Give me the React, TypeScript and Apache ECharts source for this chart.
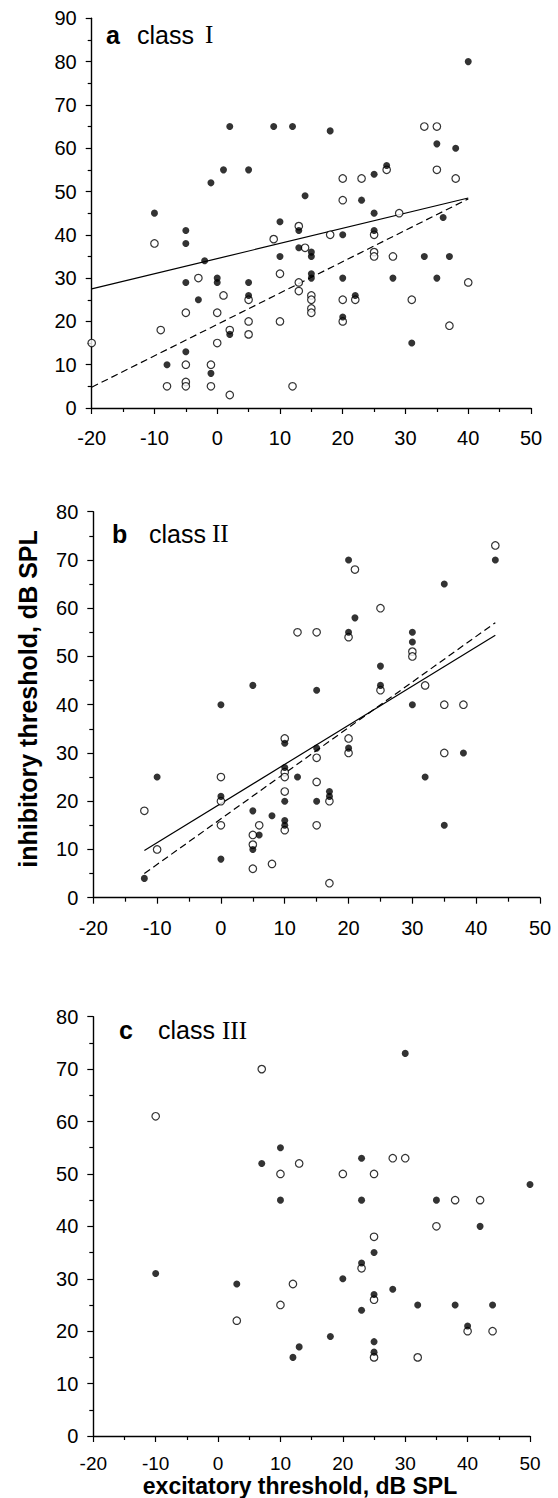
import React, { useEffect, useRef } from "react";
import * as echarts from "echarts";

// ---------- Panel a (class I) ----------
const aFilled: number[][] = [
  [-10, 45], [-5, 41], [-5, 38], [-5, 29], [-5, 13], [-3, 25], [-2, 34], [-1, 52],
  [0, 30], [0, 29], [1, 55], [2, 65], [2, 17], [5, 55], [5, 29], [5, 26], [9, 65],
  [-8, 10], [-1, 8], [31, 15], [12, 65], [18, 64], [35, 61], [38, 60], [40, 80],
  [27, 56], [25, 54], [23, 48], [14, 49], [25, 45], [10, 43], [13, 41], [20, 40],
  [25, 41], [36, 44], [13, 37], [15, 36], [15, 35], [10, 35], [33, 35], [37, 35],
  [15, 31], [15, 30], [20, 30], [28, 30], [35, 30], [22, 26], [20, 21],
];
const aOpen: number[][] = [
  [-20, 15], [-10, 38], [-9, 18], [-5, 22], [-5, 10], [-5, 6], [-5, 5], [-3, 30],
  [-8, 5], [-1, 10], [-1, 5], [0, 22], [0, 15], [1, 26], [2, 18], [2, 3], [5, 25],
  [5, 20], [5, 17], [12, 5], [33, 65], [35, 65], [35, 55], [38, 53], [27, 55],
  [23, 53], [20, 53], [20, 48], [29, 45], [13, 42], [9, 39], [18, 40], [25, 40],
  [14, 37], [25, 36], [25, 35], [28, 35], [10, 31], [13, 29], [13, 27], [40, 29],
  [15, 26], [15, 25], [15, 23], [15, 22], [20, 25], [22, 25], [31, 25], [20, 20],
  [10, 20], [37, 19],
];
const aSolid: number[][] = [[-20, 27.5], [40, 48.5]];
const aDashed: number[][] = [[-20, 4.8], [40, 48.3]];

// ---------- Panel b (class II) ----------
const bFilled: number[][] = [
  [-12, 4], [-10, 25], [0, 40], [0, 21], [0, 8], [5, 44], [5, 18], [5, 10], [6, 13],
  [8, 17], [10, 32], [10, 27], [10, 20], [10, 16], [10, 15], [12, 25], [15, 43],
  [15, 31], [15, 20], [17, 22], [17, 21], [20, 70], [21, 58], [20, 55], [20, 31],
  [25, 48], [25, 44], [30, 55], [30, 53], [30, 40], [32, 25], [35, 65], [35, 15],
  [38, 30], [43, 70],
];
const bOpen: number[][] = [
  [-12, 18], [-10, 10], [0, 25], [0, 20], [0, 15], [5, 13], [5, 11], [5, 6], [6, 15],
  [8, 7], [10, 33], [10, 26], [10, 25], [10, 22], [10, 14], [12, 55], [15, 55],
  [15, 29], [15, 24], [15, 15], [17, 20], [17, 3], [21, 68], [20, 54], [20, 33],
  [20, 30], [25, 60], [25, 43], [30, 51], [30, 50], [32, 44], [35, 40], [35, 30],
  [38, 40], [43, 73],
];
const bSolid: number[][] = [[-12, 9.8], [43, 54.4]];
const bDashed: number[][] = [[-12, 5], [43, 57]];

// ---------- Panel c (class III) ----------
const cFilled: number[][] = [
  [-10, 31], [3, 29], [7, 52], [10, 55], [10, 45], [12, 15], [13, 17], [18, 19],
  [20, 30], [23, 53], [23, 45], [23, 33], [23, 24], [25, 35], [25, 27], [25, 18],
  [25, 16], [28, 28], [30, 73], [32, 25], [35, 45], [38, 25], [40, 21], [42, 40],
  [44, 25], [50, 48],
];
const cOpen: number[][] = [
  [-10, 61], [3, 22], [7, 70], [10, 50], [10, 25], [12, 29], [13, 52], [20, 50],
  [23, 32], [25, 50], [25, 38], [25, 26], [25, 15], [28, 53], [30, 53], [32, 15],
  [35, 40], [38, 45], [40, 20], [42, 45], [44, 20],
];

const xMin = -20;
const xMax = 50;
const yMaxes = [90, 80, 80];
const panelLetters = ["a", "b", "c"];
const panelClasses = ["I", "II", "III"];
const xTitle = "excitatory threshold, dB SPL";
const yTitle = "inhibitory threshold, dB SPL";

const SANS = '"Liberation Sans", Arial, Helvetica, sans-serif';
const SERIF = '"Liberation Serif", "Times New Roman", serif';

export default function App() {
  const ref = useRef<HTMLDivElement>(null);

  useEffect(() => {
    if (!ref.current) return;
    const chart = echarts.init(ref.current, null, { renderer: "svg" });

    const grids = [
      { left: 91.7, top: 18.3, width: 439.3, height: 389.7 },
      { left: 93.3, top: 511.7, width: 446.7, height: 386 },
      { left: 93.3, top: 1016.7, width: 436.7, height: 419.3 },
    ];

    const axisCommon = {
      type: "value" as const,
      axisLine: { show: true, onZero: false, lineStyle: { color: "#000", width: 1.4 } },
      axisTick: { show: true, length: 6, lineStyle: { color: "#000", width: 1.2 } },
      minorTick: { show: true, splitNumber: 2, length: 4, lineStyle: { color: "#000", width: 1.2 } },
      splitLine: { show: false },
      minorSplitLine: { show: false },
    };

    const xAxes = grids.map((_, i) => ({
      ...axisCommon,
      gridIndex: i,
      min: xMin,
      max: xMax,
      interval: 10,
      axisLabel:
        i === 2
          ? { fontSize: 19, lineHeight: 18, color: "#000", fontFamily: SANS, margin: 18 }
          : { fontSize: 20, lineHeight: 16, color: "#000", fontFamily: SANS, margin: 22 },
    }));
    const yAxes = grids.map((_, i) => ({
      ...axisCommon,
      gridIndex: i,
      min: 0,
      max: yMaxes[i],
      interval: 10,
      axisLabel: { fontSize: 20, color: "#000", fontFamily: SANS, margin: 15 },
    }));

    const filledStyle = { color: "#000" };
    const openStyle = { color: "#fff", borderColor: "#000", borderWidth: 1.2 };

    const scatter = (i: number, data: number[][], filled: boolean) => ({
      type: "scatter",
      xAxisIndex: i,
      yAxisIndex: i,
      data,
      symbol: "circle",
      symbolSize: filled ? 7 : 7.5,
      itemStyle: filled ? filledStyle : openStyle,
      z: filled ? 4 : 3,
      silent: true,
    });
    const line = (i: number, data: number[][], dashed: boolean) => ({
      type: "line",
      xAxisIndex: i,
      yAxisIndex: i,
      data,
      symbol: "none",
      showSymbol: false,
      lineStyle: { color: "#000", width: 1.2, type: dashed ? [7, 4] : "solid" },
      z: 2,
      silent: true,
    });

    const series = [
      line(0, aSolid, false),
      line(0, aDashed, true),
      scatter(0, aOpen, false),
      scatter(0, aFilled, true),
      line(1, bSolid, false),
      line(1, bDashed, true),
      scatter(1, bOpen, false),
      scatter(1, bFilled, true),
      scatter(2, cOpen, false),
      scatter(2, cFilled, true),
    ];

    const labelPos = [
      { letterX: 106, classX: 137, numX: 205, y: 34.5 },
      { letterX: 112, classX: 149, numX: 212, y: 533.5 },
      { letterX: 119, classX: 158, numX: 222, y: 1030 },
    ];

    const txt = (
      text: string,
      x: number,
      y: number,
      font: string,
      align = "left",
      rotation = 0,
      lineHeight?: number
    ) => ({
      type: "text",
      x,
      y,
      rotation,
      silent: true,
      style: {
        text,
        fill: "#000",
        font,
        lineHeight,
        textAlign: align,
        textVerticalAlign: "middle",
        align,
        verticalAlign: "middle",
      },
    });

    const graphics: any[] = [];
    labelPos.forEach((p, i) => {
      graphics.push(txt(panelLetters[i], p.letterX, p.y, `bold 25px ${SANS}`));
      graphics.push(txt("class", p.classX, p.y, `25px ${SANS}`));
      graphics.push(txt(panelClasses[i], p.numX, p.y, `25px ${SERIF}`));
    });
    graphics.push(txt(yTitle, 28, 699, `bold 25px ${SANS}`, "center", Math.PI / 2));
    graphics.push(txt(xTitle, 300, 1486, `bold 23px ${SANS}`, "center", 0, 22));

    chart.setOption({
      animation: false,
      backgroundColor: "#fff",
      grid: grids.map((g) => ({ ...g, containLabel: false })),
      xAxis: xAxes,
      yAxis: yAxes,
      series,
      graphic: graphics,
    });

    return () => chart.dispose();
  }, []);

  return (
    <div
      ref={ref}
      style={{ position: "absolute", left: 0, top: 0, width: 558, height: 1498, background: "#fff" }}
    />
  );
}
